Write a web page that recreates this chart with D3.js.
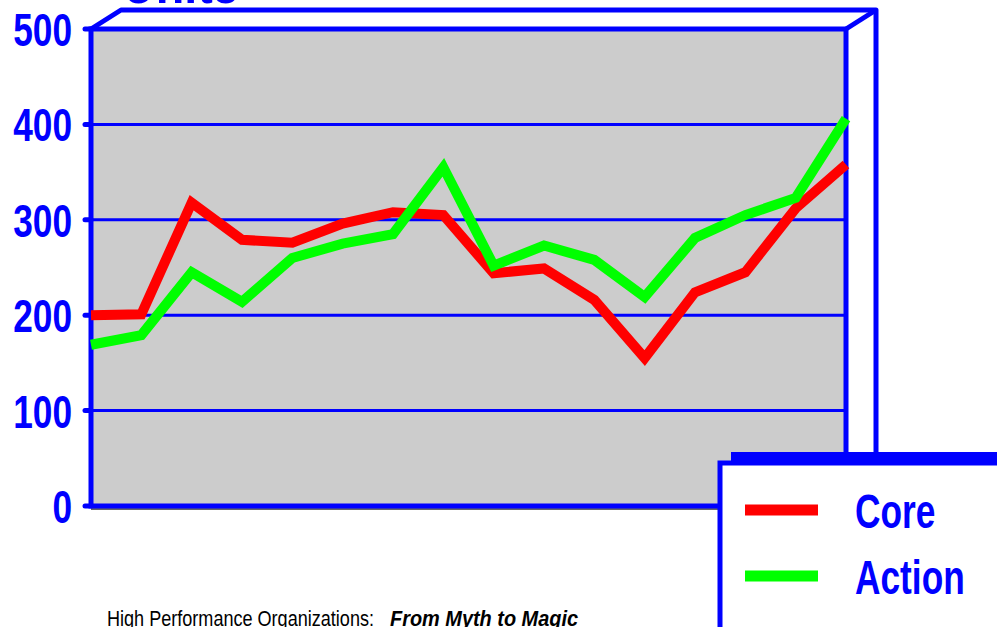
<!DOCTYPE html>
<html>
<head>
<meta charset="utf-8">
<script src="https://cdn.jsdelivr.net/npm/d3@7"></script>
<style>
  body { margin: 0; background: #fff; overflow: hidden; }
  svg { display: block; }
</style>
</head>
<body>
<script>
// data
var periods = d3.range(1, 17);
var core   = [200, 201, 318, 279, 276, 296, 308, 305, 244, 249, 216, 155, 224, 245, 312, 358];
var action = [169, 179, 245, 214, 260, 275, 285, 355, 252, 273, 258, 219, 281, 305, 323, 406];
var yTicks = [0, 100, 200, 300, 400, 500];
var seriesNames = ["Core", "Action"];
var seriesColors = ["#ff0000", "#00ff00"];

var width = 997, height = 627;
var blue = "#0000ff";
var depth = {dx: 30, dy: -19};
var font = "'Liberation Sans', Arial, sans-serif";
var squeeze = 0.73; // condensed look

var svg = d3.select("body").append("svg")
    .attr("width", width)
    .attr("height", height);

svg.append("rect")
    .attr("width", width)
    .attr("height", height)
    .attr("fill", "#ffffff");

// set the ranges
var x = d3.scalePoint()
    .domain(periods)
    .range([91, 846]);
var y = d3.scaleLinear()
    .domain([0, 500])
    .range([506, 29]);

var x0 = x.range()[0], x1 = x.range()[1];
var yTop = y(500), yBot = y(0);

// condensed text helper
function narrowText(parent, tx, ty, size, anchor, sx, str) {
  return parent.append("g")
      .attr("transform", "translate(" + tx + "," + ty + ") scale(" + sx + ",1)")
    .append("text")
      .attr("text-anchor", anchor)
      .attr("fill", blue)
      .attr("font-family", font)
      .attr("font-weight", "bold")
      .attr("font-size", size + "px")
      .text(str);
}

// 3D back box (white walls)
svg.append("path")
    .attr("d", "M" + x0 + "," + yTop +
               "L" + (x0 + depth.dx) + "," + (yTop + depth.dy) +
               "L" + (x1 + depth.dx) + "," + (yTop + depth.dy) +
               "L" + (x1 + depth.dx) + "," + (yBot + depth.dy) +
               "L" + x1 + "," + yBot + "Z")
    .attr("fill", "#ffffff")
    .attr("stroke", blue)
    .attr("stroke-width", 5)
    .attr("stroke-linejoin", "round");
svg.append("line")
    .attr("x1", x1).attr("y1", yTop)
    .attr("x2", x1 + depth.dx).attr("y2", yTop + depth.dy)
    .attr("stroke", blue)
    .attr("stroke-width", 5);

// plot face
svg.append("rect")
    .attr("x", x0)
    .attr("y", yTop)
    .attr("width", x1 - x0)
    .attr("height", yBot - yTop)
    .attr("fill", "#cccccc");

// gridlines
svg.append("g")
  .selectAll("line")
    .data(yTicks.filter(function(d) { return d > 0 && d < 500; }))
  .enter().append("line")
    .attr("x1", x0)
    .attr("x2", x1)
    .attr("y1", function(d) { return y(d); })
    .attr("y2", function(d) { return y(d); })
    .attr("stroke", blue)
    .attr("stroke-width", 3);

// shadow under the base line
svg.append("line")
    .attr("x1", x0).attr("x2", x1)
    .attr("y1", yBot + 3).attr("y2", yBot + 3)
    .attr("stroke", "#666666")
    .attr("stroke-width", 2);

// front frame
svg.append("rect")
    .attr("x", x0)
    .attr("y", yTop)
    .attr("width", x1 - x0)
    .attr("height", yBot - yTop)
    .attr("fill", "none")
    .attr("stroke", blue)
    .attr("stroke-width", 5);

// tick marks
svg.append("g")
  .selectAll("line")
    .data(yTicks)
  .enter().append("line")
    .attr("x1", x0 - 6)
    .attr("x2", x0)
    .attr("y1", function(d) { return y(d); })
    .attr("y2", function(d) { return y(d); })
    .attr("stroke", blue)
    .attr("stroke-width", 5)
    .attr("stroke-linecap", "round");

// y labels
var yl = svg.append("g");
yTicks.forEach(function(d) {
  narrowText(yl, 72, y(d) + 17, 47, "end", 0.75, d);
});

// cut-off title
narrowText(svg, 122, 3, 64, "start", squeeze, "Units");

// lines
var line = d3.line()
    .x(function(d, i) { return x(periods[i]); })
    .y(function(d) { return y(d); });

[core, action].forEach(function(s, i) {
  svg.append("path")
      .datum(s)
      .attr("d", line)
      .attr("fill", "none")
      .attr("stroke", seriesColors[i])
      .attr("stroke-width", 10)
      .attr("stroke-linejoin", "miter");
});

// legend
var lg = svg.append("g");
lg.append("rect")
    .attr("x", 731).attr("y", 452)
    .attr("width", 300).attr("height", 200)
    .attr("fill", blue);
lg.append("rect")
    .attr("x", 720).attr("y", 463)
    .attr("width", 300).attr("height", 200)
    .attr("fill", "#ffffff")
    .attr("stroke", blue)
    .attr("stroke-width", 5);

seriesNames.forEach(function(name, i) {
  var cy = 510 + i * 66;
  lg.append("line")
      .attr("x1", 745).attr("x2", 818)
      .attr("y1", cy).attr("y2", cy)
      .attr("stroke", seriesColors[i])
      .attr("stroke-width", 11);
  narrowText(lg, 855, cy + 18, 49, "start", 0.72, name);
});

// footer
svg.append("text")
    .attr("x", 107)
    .attr("y", 626)
    .attr("fill", "#000000")
    .attr("font-family", font)
    .attr("font-size", "22px")
    .attr("textLength", 267)
    .attr("lengthAdjust", "spacingAndGlyphs")
    .text("High Performance Organizations:");
svg.append("text")
    .attr("x", 390)
    .attr("y", 626)
    .attr("fill", "#000000")
    .attr("font-family", font)
    .attr("font-size", "22px")
    .attr("font-weight", "bold")
    .attr("font-style", "italic")
    .attr("textLength", 188)
    .attr("lengthAdjust", "spacingAndGlyphs")
    .text("From Myth to Magic");
</script>
</body>
</html>
